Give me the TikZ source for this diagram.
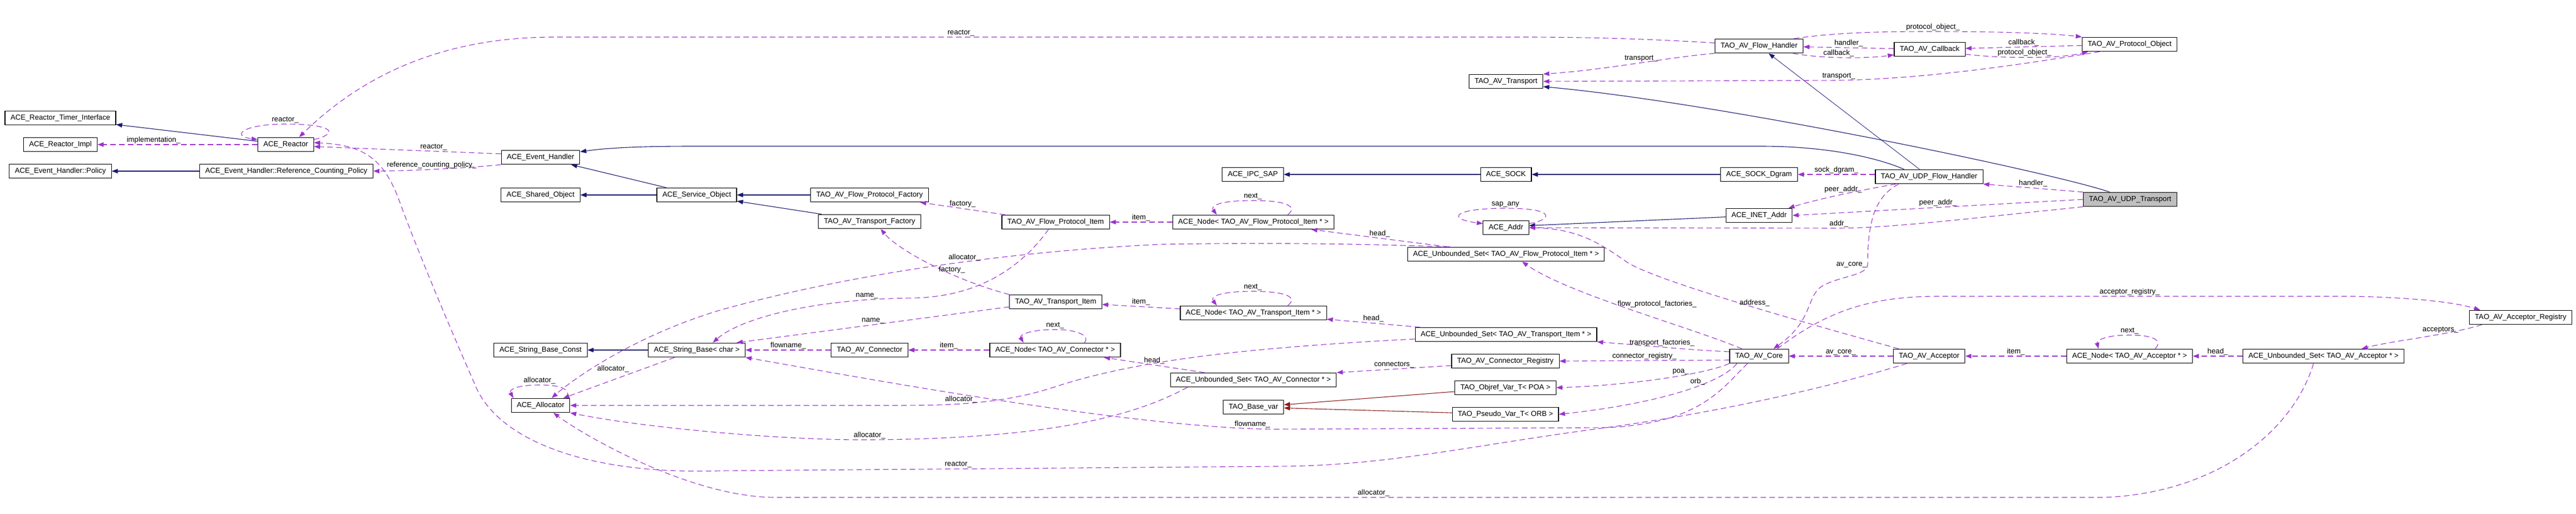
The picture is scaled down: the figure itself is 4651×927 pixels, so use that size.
\documentclass[tikz,border=0pt]{standalone}
\usepackage{fontspec}
\setmainfont{Liberation Sans}
\usepackage{xcolor}
\usepackage{tikz}
\usetikzlibrary{arrows.meta}
\definecolor{edgeblue}{HTML}{191970}
\definecolor{edgepurple}{HTML}{9A32CD}
\definecolor{edgered}{HTML}{8B1A1A}
\definecolor{focusgrey}{HTML}{BFBFBF}

\begin{document}
\begin{tikzpicture}[
    x=1pt, y=-1pt,
    cls/.style={rectangle, draw, line width=1.1pt, fill=white, inner xsep=10pt, inner ysep=0pt, minimum height=25.5pt, font=\fontsize{13.2}{15}\selectfont},
    lbl/.style={font=\fontsize{13.2}{15}\selectfont, text=black, inner sep=1.5pt},
    inherit/.style={-{Triangle[length=11pt, width=8pt]}, line width=1.1pt, edgeblue},
    instance/.style={-{Triangle[length=11pt, width=8pt]}, line width=1.1pt, edgered},
    member/.style={-{Triangle[length=11pt, width=8pt]}, line width=1.1pt, edgepurple, dash pattern=on 10pt off 6pt}
]
\useasboundingbox (0,0) rectangle (4651,927);

% ACE side
\node[cls] (rti) at (109,213) {ACE\_Reactor\_Timer\_Interface};
\node[cls] (rimpl) at (109,261) {ACE\_Reactor\_Impl};
\node[cls] (policy) at (109,309) {ACE\_Event\_Handler::Policy};
\node[cls] (reactor) at (516,261) {ACE\_Reactor};
\node[cls] (rcpolicy) at (517,309) {ACE\_Event\_Handler::Reference\_Counting\_Policy};
\node[cls] (evh) at (976,284) {ACE\_Event\_Handler};
\node[cls] (shobj) at (976,352) {ACE\_Shared\_Object};
\node[cls] (svcobj) at (1258,352) {ACE\_Service\_Object};
\node[cls] (sbconst) at (976,632) {ACE\_String\_Base\_Const};
\node[cls] (sbchar) at (1258,632) {ACE\_String\_Base< char >};
\node[cls] (alloc) at (976,732) {ACE\_Allocator};

% Factories and items
\node[cls] (fpfact) at (1570,352) {TAO\_AV\_Flow\_Protocol\_Factory};
\node[cls] (trfact) at (1570,400) {TAO\_AV\_Transport\_Factory};
\node[cls] (conn) at (1570,632) {TAO\_AV\_Connector};
\node[cls] (fpitem) at (1906,401) {TAO\_AV\_Flow\_Protocol\_Item};
\node[cls] (tritem) at (1906,545) {TAO\_AV\_Transport\_Item};
\node[cls] (nodecn) at (1905,632) {ACE\_Node< TAO\_AV\_Connector * >};
\node[cls] (ipcsap) at (2262,315) {ACE\_IPC\_SAP};
\node[cls] (nodefp) at (2263,401) {ACE\_Node< TAO\_AV\_Flow\_Protocol\_Item * >};
\node[cls] (nodetr) at (2263,565) {ACE\_Node< TAO\_AV\_Transport\_Item * >};
\node[cls] (setcn) at (2263,686) {ACE\_Unbounded\_Set< TAO\_AV\_Connector * >};
\node[cls] (basevar) at (2263,735) {TAO\_Base\_var};

% Middle column
\node[cls] (transport) at (2719,147) {TAO\_AV\_Transport};
\node[cls] (sock) at (2719,315) {ACE\_SOCK};
\node[cls] (addr) at (2719,411) {ACE\_Addr};
\node[cls] (setfp) at (2719,459) {ACE\_Unbounded\_Set< TAO\_AV\_Flow\_Protocol\_Item * >};
\node[cls] (settr) at (2719,604) {ACE\_Unbounded\_Set< TAO\_AV\_Transport\_Item * >};
\node[cls] (cnreg) at (2718,652) {TAO\_AV\_Connector\_Registry};
\node[cls] (objref) at (2718,700) {TAO\_Objref\_Var\_T< POA >};
\node[cls] (pseudo) at (2718,748) {TAO\_Pseudo\_Var\_T< ORB >};

% TAO AV side
\node[cls] (flowh) at (3176,83) {TAO\_AV\_Flow\_Handler};
\node[cls] (callback) at (3484,89) {TAO\_AV\_Callback};
\node[cls] (protobj) at (3845,80) {TAO\_AV\_Protocol\_Object};
\node[cls] (dgram) at (3176,315) {ACE\_SOCK\_Dgram};
\node[cls] (udpfh) at (3483,319) {TAO\_AV\_UDP\_Flow\_Handler};
\node[cls] (inet) at (3176,389) {ACE\_INET\_Addr};
\node[cls, fill=focusgrey] (udptr) at (3846,360) {TAO\_AV\_UDP\_Transport};
\node[cls] (core) at (3176,643) {TAO\_AV\_Core};
\node[cls] (acceptor) at (3483,643) {TAO\_AV\_Acceptor};
\node[cls] (nodeac) at (3845,643) {ACE\_Node< TAO\_AV\_Acceptor * >};
\node[cls] (setac) at (4195,643) {ACE\_Unbounded\_Set< TAO\_AV\_Acceptor * >};
\node[cls] (acreg) at (4551,573) {TAO\_AV\_Acceptor\_Registry};

% Inheritance
\draw[inherit] (reactor) -- (rti);
\draw[inherit] (rcpolicy) -- (policy);
\draw[inherit] (svcobj) -- (evh);
\draw[inherit] (svcobj) -- (shobj);
\draw[inherit] (fpfact) -- (svcobj);
\draw[inherit] (trfact) -- (svcobj);
\draw[inherit] (sbchar) -- (sbconst);
\draw[inherit] ([xshift=-45pt]udpfh.north) .. controls (3390,285) and (3300,264) .. (3180,264) -- (1250,264) .. controls (1140,264) and (1090,268) .. (evh.8);
\draw[inherit, line width=0.8pt] (udpfh) -- (flowh);
\draw[inherit] ([xshift=-37pt]udptr.north) .. controls (3700,310) and (3100,185) .. (transport.-8);
\draw[inherit] (dgram) -- (sock);
\draw[inherit] (sock) -- (ipcsap);
\draw[inherit] (inet) -- (addr.5);

% Template instances
\draw[instance] (objref) -- (basevar);
\draw[instance] (pseudo) -- (basevar);

% Reactor members
\draw[member] (reactor) -- node[lbl, above, pos=0.65] {implementation\_} (rimpl);
\draw[member] (reactor.10) .. controls (615,240) and (600,224) .. (515,224) node[lbl, above] {reactor\_} .. controls (440,224) and (415,245) .. (reactor.170);
\draw[member] (flowh.176) .. controls (3000,72) and (2900,67) .. (2750,67) -- node[lbl, above, pos=0.58] {reactor\_} (1000,67) .. controls (780,67) and (640,150) .. ([xshift=24pt]reactor.north);
\draw[member] (evh.175) -- node[lbl, above, pos=0.36] {reactor\_} (reactor.-4);
\draw[member] (evh.south west) .. controls (860,302) and (760,308) .. node[lbl, above, pos=0.6] {reference\_counting\_policy\_} (rcpolicy.east);
\draw[member] ([xshift=-40pt]acceptor.south) .. controls (3300,700) and (3100,745) .. (2900,772) .. controls (2650,805) and (2500,842) .. (2300,842) -- node[lbl, above, pos=0.57] {reactor\_} (1300,850) .. controls (1050,858) and (900,790) .. (860,700) .. controls (830,632) and (760,470) .. (720,360) .. controls (690,280) and (650,262) .. (reactor.4);

% Flow protocol items
\draw[member] (fpitem) -- node[lbl, above] {factory\_} (fpfact);
\draw[member] (nodefp) -- node[lbl, above] {item\_} (fpitem);
\draw[member] ([xshift=62pt]nodefp.north) .. controls (2345,372) and (2320,362) .. (2262,362) node[lbl, above] {next\_} .. controls (2200,362) and (2185,372) .. ([xshift=-66pt]nodefp.north);
\draw[member] (setfp) -- node[lbl, above] {head\_} (nodefp);
\draw[member] ([xshift=-101pt]setfp.north) .. controls (2450,440) and (2300,438) .. (2100,441) .. controls (1850,452) and (1550,490) .. node[lbl, above, pos=0.45] {allocator\_} (1300,560) .. controls (1150,605) and (1040,680) .. ([xshift=20pt]alloc.north);
\draw[member] ([xshift=-13pt]fpitem.south) .. controls (1860,460) and (1790,535) .. (1650,538) .. controls (1450,540) and (1330,580) .. node[lbl, above, pos=0.15] {name\_} ([xshift=29pt]sbchar.north);

% Transport items
\draw[member] (tritem.north west) .. controls (1720,505) and (1620,450) .. node[lbl, above, pos=0.35] {factory\_} ([xshift=20pt]trfact.south);
\draw[member] ([yshift=-9pt]tritem.west) -- node[lbl, above] {name\_} ([xshift=72pt]sbchar.north);
\draw[member] (nodetr) -- node[lbl, above] {item\_} (tritem);
\draw[member] ([xshift=62pt]nodetr.north) .. controls (2345,536) and (2320,526) .. (2262,526) node[lbl, above] {next\_} .. controls (2200,526) and (2185,536) .. ([xshift=-66pt]nodetr.north);
\draw[member] (settr) -- node[lbl, above] {head\_} (nodetr);
\draw[member] ([yshift=-8pt]settr.west) .. controls (2250,628) and (2050,650) .. (1900,700) .. controls (1800,732) and (1700,732) .. node[lbl, above, pos=0.55] {allocator\_} (1600,732) -- (alloc.east);

% Connectors
\draw[member] (nodecn) -- node[lbl, above] {item\_} (conn);
\draw[member] ([xshift=53pt]nodecn.north) .. controls (1968,608) and (1950,595) .. (1905,595) node[lbl, above] {next\_} .. controls (1858,595) and (1840,605) .. ([xshift=-57pt]nodecn.north);
\draw[member] (setcn) -- node[lbl, above] {head\_} (nodecn);
\draw[member] ([xshift=-119pt]setcn.south) .. controls (2050,750) and (1900,792) .. (1570,794) node[lbl, above] {allocator\_} .. controls (1400,795) and (1150,770) .. (alloc.south east);
\draw[member] (conn) -- node[lbl, above] {flowname\_} (sbchar);
\draw[member] ([yshift=-8pt]cnreg.west) -- node[lbl, above] {connectors\_} (setcn.north east);

% String and allocator
\draw[member] ([xshift=-40pt]sbchar.south) -- node[lbl, above left, pos=0.4] {allocator\_} ([xshift=41pt]alloc.north);
\draw[member] ([xshift=48pt]alloc.north) .. controls (1030,703) and (1015,695) .. (974,695) node[lbl, above] {allocator\_} .. controls (935,695) and (918,703) .. ([xshift=-49pt]alloc.north);

% Core
\draw[member] ([xshift=-21pt]core.south) .. controls (3110,700) and (3070,765) .. (2900,772) -- (2300,775) .. controls (2050,772) and (1600,690) .. node[lbl, above, pos=0.05] {flowname\_} (sbchar.south east);
\draw[member] ([xshift=-31pt]core.north) .. controls (3050,590) and (2830,530) .. node[lbl, right, pos=0.55] {flow\_protocol\_factories\_} ([xshift=29pt]setfp.south);
\draw[member] ([yshift=8pt]core.west) .. controls (3050,632) and (2950,622) .. node[lbl, above] {transport\_factories\_} (settr.south east);
\draw[member] ([yshift=-7pt]core.west) -- node[lbl, above] {connector\_registry\_} (cnreg.east);
\draw[member] (core.south west) .. controls (3080,675) and (2950,695) .. node[lbl, above, pos=0.4] {poa\_} (objref.east);
\draw[member] ([xshift=-40pt]core.south) .. controls (3110,690) and (3000,728) .. node[lbl, above, pos=0.4] {orb\_} (pseudo.east);
\draw[member] ([xshift=33pt]core.north) .. controls (3300,560) and (3380,535) .. (3500,535) -- node[lbl, above, pos=0.46] {acceptor\_registry\_} (4250,535) .. controls (4350,537) and (4430,545) .. ([xshift=-73pt]acreg.north);

% Acceptors
\draw[member] (acceptor) -- node[lbl, above] {av\_core\_} (core);
\draw[member] ([xshift=-55pt]acceptor.north) .. controls (3250,580) and (3000,510) .. node[lbl, above, pos=0.45] {address\_} (2940,475) .. controls (2890,440) and (2850,413) .. (addr.east);
\draw[member] (nodeac) -- node[lbl, above] {item\_} (acceptor);
\draw[member] ([xshift=46pt]nodeac.north) .. controls (3905,615) and (3890,605) .. (3845,605) node[lbl, above] {next\_} .. controls (3800,605) and (3785,615) .. ([xshift=-56pt]nodeac.north);
\draw[member] (setac) -- node[lbl, above] {head\_} (nodeac);
\draw[member] ([xshift=-70pt]acreg.south) .. controls (4420,605) and (4320,615) .. node[lbl, above, pos=0.35] {acceptors\_} ([xshift=69pt]setac.north);
\draw[member] ([xshift=-18pt]setac.south) .. controls (4140,780) and (4000,890) .. (3800,898) -- node[lbl, above, pos=0.55] {allocator\_} (1400,898) .. controls (1250,898) and (1060,790) .. ([xshift=23pt]alloc.south);

% Addresses
\draw[member] (addr.10) .. controls (2800,398) and (2815,376) .. (2718,376) node[lbl, above] {sap\_any} .. controls (2625,376) and (2610,395) .. (addr.170);
\draw[member] (udptr.south west) .. controls (3550,395) and (3420,411) .. (3320,412) node[lbl, above] {addr\_} -- (addr.east);
\draw[member] (udptr.west) -- node[lbl, above] {peer\_addr\_} (inet.east);
\draw[member] ([xshift=-60pt]udpfh.south) .. controls (3350,345) and (3280,360) .. node[lbl, above, pos=0.45] {peer\_addr\_} ([xshift=53pt]inet.north);

% UDP flow handler
\draw[member] (udptr.north west) -- node[lbl, above] {handler\_} (udpfh.south east);
\draw[member] ([yshift=4pt]udpfh.west) -- node[lbl, above] {sock\_dgram\_} (dgram.east);
\draw[member] ([xshift=-55pt]udpfh.south) .. controls (3385,355) and (3372,400) .. (3372,478) node[lbl, left] {av\_core\_} .. controls (3372,500) and (3300,500) .. (3280,525) .. controls (3262,550) and (3265,585) .. ([xshift=26pt]core.north);

% Flow handler, callback, protocol object
\draw[member] (flowh.south west) .. controls (3000,105) and (2900,126) .. node[lbl, above, pos=0.45] {transport\_} (transport.north east);
\draw[member] ([xshift=-54pt]protobj.south) .. controls (3700,108) and (3500,142) .. (3320,145) node[lbl, above] {transport\_} -- (transport.east);
\draw[member] (callback) -- node[lbl, above] {handler\_} (flowh);
\draw[member] ([xshift=61pt]flowh.south) .. controls (3290,106) and (3370,106) .. node[lbl, above, pos=0.45] {callback\_} ([yshift=-10pt]callback.west);
\draw[member] ([xshift=63pt]flowh.north) .. controls (3320,58) and (3400,57) .. (3490,57) node[lbl, above] {protocol\_object\_} .. controls (3650,57) and (3720,62) .. (protobj.north west);
\draw[member] (protobj) -- node[lbl, above] {callback\_} (callback);
\draw[member] ([yshift=-9pt]callback.east) .. controls (3620,106) and (3720,106) .. node[lbl, above, pos=0.45] {protocol\_object\_} ([xshift=-75pt]protobj.south);

\end{tikzpicture}
\end{document}
